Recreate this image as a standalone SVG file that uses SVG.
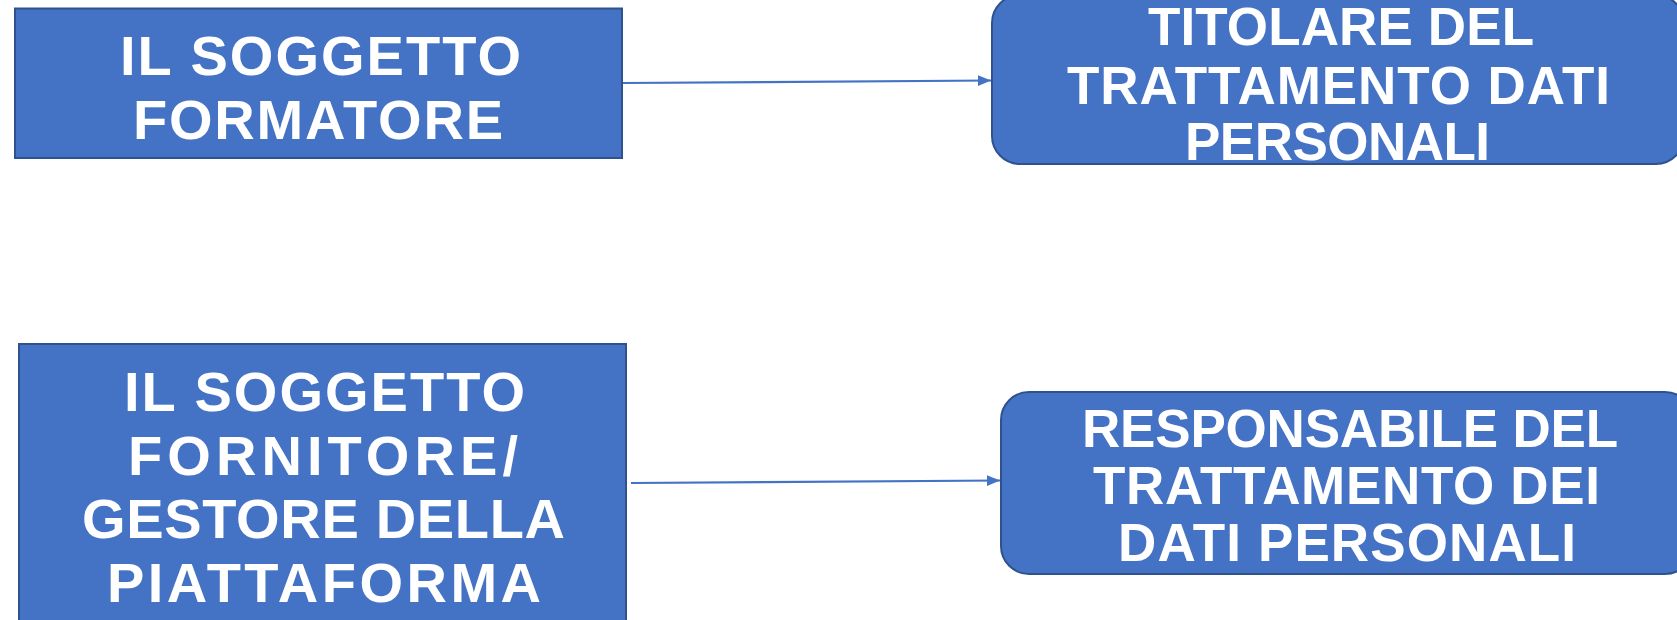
<svg xmlns="http://www.w3.org/2000/svg" width="1677" height="620" viewBox="0 0 1677 620">
<style>
.box{fill:#4472C4;stroke:#2F528F;stroke-width:2}
.t{font-family:"Liberation Sans",Arial,sans-serif;font-weight:bold;fill:#FFFFFF}
.l{font-size:56px}
.r{font-size:53px}
.c{stroke:#4472C4;stroke-width:2.2;fill:none}
</style>
<defs>
<marker id="ah" viewBox="0 0 10 10" refX="10" refY="5" markerWidth="6" markerHeight="5" orient="auto" markerUnits="strokeWidth" preserveAspectRatio="none">
<path d="M0,0 L10,5 L0,10 z" fill="#4472C4"/>
</marker>
</defs>
<rect width="1677" height="620" fill="#FFFFFF"/>
<g id="connectors">
<line class="c" x1="623" y1="83" x2="991" y2="80.5" marker-end="url(#ah)"/>
<line class="c" x1="631" y1="483" x2="1000" y2="480.5" marker-end="url(#ah)"/>
</g>
<g id="soggetto-formatore">
<rect class="box" x="15" y="8.5" width="607" height="149.5"/>
<text class="t l" x="120" y="75" textLength="401">IL SOGGETTO</text>
<text class="t l" x="133" y="139" textLength="370">FORMATORE</text>
</g>
<g id="titolare">
<rect class="box" x="992" y="-5" width="692" height="169" rx="28"/>
<text class="t r" x="1148" y="45" textLength="386">TITOLARE DEL</text>
<text class="t r" x="1067" y="104" textLength="543">TRATTAMENTO DATI</text>
<text class="t r" x="1185" y="160" textLength="305">PERSONALI</text>
</g>
<g id="soggetto-fornitore">
<rect class="box" x="19" y="344" width="607" height="290"/>
<text class="t l" x="124" y="411" textLength="401">IL SOGGETTO</text>
<text class="t l" x="128" y="475" textLength="390">FORNITORE/</text>
<text class="t l" x="82" y="538" textLength="483">GESTORE DELLA</text>
<text class="t l" x="107" y="602" textLength="434">PIATTAFORMA</text>
</g>
<g id="responsabile">
<rect class="box" x="1001" y="392" width="692" height="182" rx="28"/>
<text class="t r" x="1082" y="447" textLength="536">RESPONSABILE DEL</text>
<text class="t r" x="1093" y="504" textLength="507">TRATTAMENTO DEI</text>
<text class="t r" x="1118" y="561" textLength="458">DATI PERSONALI</text>
</g>
</svg>
